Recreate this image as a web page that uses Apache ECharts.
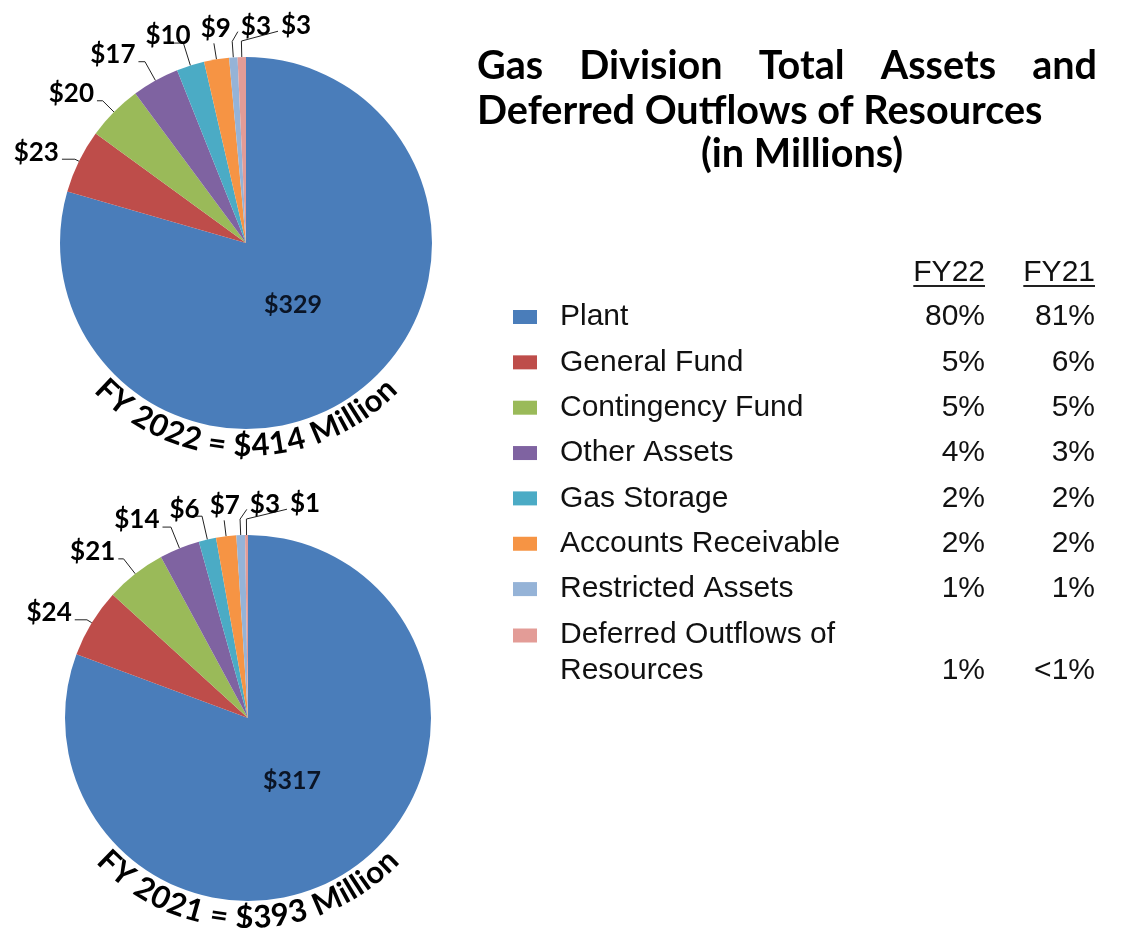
<!DOCTYPE html>
<html>
<head>
<meta charset="utf-8">
<title>Gas Division Total Assets and Deferred Outflows of Resources</title>
<script src="https://cdn.jsdelivr.net/npm/echarts@6/dist/echarts.min.js"></script>
<style>
  html, body { margin: 0; padding: 0; background: #fff; }
  #chart { width: 1128px; height: 928px; }
</style>
</head>
<body>
<div id="chart"></div>
<script>
const categories = [
  'Plant',
  'General Fund',
  'Contingency Fund',
  'Other Assets',
  'Gas Storage',
  'Accounts Receivable',
  'Restricted Assets',
  'Deferred Outflows of Resources'
];
const fy22Values = [329, 23, 20, 17, 10, 9, 3, 3];
const fy21Values = [317, 24, 21, 14, 6, 7, 3, 1];
const fy22Share = ['80%', '5%', '5%', '4%', '2%', '2%', '1%', '1%'];
const fy21Share = ['81%', '6%', '5%', '3%', '2%', '2%', '1%', '<1%'];
const columnHeads = ['FY22', 'FY21'];
const pieCaptions = ['FY 2022 = $414 Million', 'FY 2021 = $393 Million'];
const titleLines = ['Gas Division Total Assets and', 'Deferred Outflows of Resources', '(in Millions)'];

const colors = ['#4a7dba', '#be4d4a', '#9aba59', '#7f63a1', '#4babc5', '#f69444', '#95b3d7', '#e39c97'];

// geometry of the two pies (pixels)
const pies = [
  { values: fy22Values, center: [246, 243], radius: 186, caption: pieCaptions[0] },
  { values: fy21Values, center: [248, 718], radius: 183, caption: pieCaptions[1] }
];

const LABEL_SIZE = 26;
const LABEL_FONT = 'bold ' + LABEL_SIZE + 'px Lato';
const CAPTION_FONT = 'bold 31px Lato';
const TABLE_FONT = '30px "Liberation Sans"';

const measureCtx = document.createElement('canvas').getContext('2d');
function textWidth(str, font) {
  measureCtx.font = font;
  return measureCtx.measureText(str).width;
}

// place the outside labels roughly the way the spreadsheet did:
// text hung off the rim with a short leader, crowded top labels pushed right
function layoutLabels(pie) {
  const vals = pie.values;
  const total = vals.reduce((a, b) => a + b, 0);
  const cx = pie.center[0], cy = pie.center[1], r = pie.radius;
  let acc = 0;
  let prev = null;
  return vals.map(function (v, i) {
    const a0 = acc / total * Math.PI * 2;
    acc += v;
    const a1 = acc / total * Math.PI * 2;
    const mid = (a0 + a1) / 2;
    const sx = Math.sin(mid), sy = -Math.cos(mid);
    if (i === 0) {
      return { inner: [cx + sx * r * 0.42, cy + sy * r * 0.42] };
    }
    const w = textWidth('$' + v, LABEL_FONT);
    const h = LABEL_SIZE;
    const e = [cx + sx * r, cy + sy * r];
    let box, pts, tip;
    if (Math.abs(sx) < 0.2) {
      const bottom = e[1] - 18;
      tip = [e[0] + sx * (e[1] - bottom - 2) / -sy, bottom + 2];
      box = { x: e[0] - 11 - w / 2, y: bottom - h, w: w, h: h };
      pts = [e, tip, tip];
    } else {
      const bottom = e[1] + 4 - 45 * Math.max(0, Math.abs(sy) - 0.5);
      const right = e[0] - 20;
      box = { x: right - w, y: bottom - h, w: w, h: h };
      const end = [right + 3, bottom - 6];
      const t = (e[1] - end[1]) / Math.abs(sy);
      let knee = [e[0] + sx * t, end[1]];
      if (knee[0] < end[0]) knee = end;
      tip = end;
      pts = [e, knee, end];
    }
    if (prev && box.x < prev.x + prev.w + 10 && box.x + box.w > prev.x &&
        box.y < prev.y + prev.h && box.y + box.h > prev.y) {
      box.x = prev.x + prev.w + 10;
      if (box.x > tip[0] + 6) {
        pts = [e, tip, [box.x - 3, box.y + h * 0.7]];
      }
    }
    prev = box;
    return { box: box, pts: pts };
  });
}

// caption bent round the bottom of a pie, one glyph at a time
function arcText(str, cx, cy, radius, font) {
  const chars = str.split('');
  const widths = chars.map(function (ch) { return textWidth(ch, font); });
  const total = widths.reduce((a, b) => a + b, 0);
  let s = 0;
  return chars.map(function (ch, k) {
    const c = s + widths[k] / 2;
    s += widths[k];
    const phi = Math.PI / 2 + (total / 2 - c) / radius;
    return {
      type: 'text',
      silent: true,
      x: cx + radius * Math.cos(phi),
      y: cy + radius * Math.sin(phi),
      rotation: Math.PI / 2 - phi,
      style: { text: ch, font: font, fill: '#000', align: 'center', verticalAlign: 'middle' }
    };
  });
}

const chart = echarts.init(document.getElementById('chart'));

const series = pies.map(function (pie) {
  const layout = layoutLabels(pie);
  return {
    type: 'pie',
    center: pie.center,
    radius: pie.radius,
    startAngle: 90,
    clockwise: true,
    avoidLabelOverlap: false,
    silent: true,
    itemStyle: { borderWidth: 0 },
    label: {
      show: true,
      position: 'outside',
      formatter: function (p) { return '$' + p.value; },
      fontFamily: 'Lato',
      fontWeight: 'bold',
      fontSize: LABEL_SIZE,
      color: '#000'
    },
    labelLine: { show: true, length: 10, length2: 8, lineStyle: { color: '#222', width: 1 } },
    labelLayout: function (params) {
      const item = layout[params.dataIndex];
      if (!item) return {};
      if (item.inner) {
        return { x: item.inner[0], y: item.inner[1], align: 'center', verticalAlign: 'middle' };
      }
      return {
        x: item.box.x + item.box.w / 2,
        y: item.box.y + item.box.h,
        align: 'center',
        verticalAlign: 'bottom',
        labelLinePoints: item.pts
      };
    },
    data: categories.map(function (name, i) {
      const d = { name: name, value: pie.values[i] };
      if (i === 0) {
        d.label = { position: 'inside', color: '#0b1526', fontSize: 25 };
        d.labelLine = { show: false };
      }
      return d;
    })
  };
});

// title: first line justified, second left, third centred
const titleFont = (function () {
  const size = 36 * 566 / textWidth(titleLines[1], 'bold 36px Lato');
  return 'bold ' + size.toFixed(1) + 'px Lato';
})();
const titleLeft = 477, titleRight = 1097;
const graphics = [];
(function () {
  const words = titleLines[0].split(' ');
  const ws = words.map(function (w) { return textWidth(w, titleFont); });
  const gap = (titleRight - titleLeft - ws.reduce((a, b) => a + b, 0)) / (words.length - 1);
  let x = titleLeft;
  words.forEach(function (w, k) {
    graphics.push({ type: 'text', silent: true, x: x, y: 66,
      style: { text: w, font: titleFont, fill: '#000', align: 'left', verticalAlign: 'middle' } });
    x += ws[k] + gap;
  });
  graphics.push({ type: 'text', silent: true, x: titleLeft, y: 111,
    style: { text: titleLines[1], font: titleFont, fill: '#000', align: 'left', verticalAlign: 'middle' } });
  graphics.push({ type: 'text', silent: true, x: 802, y: 154,
    style: { text: titleLines[2], font: titleFont, fill: '#000', align: 'center', verticalAlign: 'middle' } });
})();

// column heads with underline
const colRight = [985, 1095];
columnHeads.forEach(function (head, k) {
  const w = textWidth(head, TABLE_FONT);
  graphics.push({ type: 'text', silent: true, x: colRight[k], y: 273,
    style: { text: head, font: TABLE_FONT, fill: '#111', align: 'right', verticalAlign: 'middle' } });
  graphics.push({ type: 'line', silent: true,
    shape: { x1: colRight[k] - w, y1: 286, x2: colRight[k], y2: 286 },
    style: { stroke: '#222', lineWidth: 2 } });
});

pies.forEach(function (pie) {
  arcText(pie.caption, pie.center[0], pie.center[1], pie.radius + 17, CAPTION_FONT)
    .forEach(function (g) { graphics.push(g); });
});

const lastName = categories[categories.length - 1];
const splitAt = lastName.lastIndexOf(' ');

const tableRich = {
  n: { fontSize: 30, fontFamily: 'Liberation Sans', color: '#111', width: 330, lineHeight: 35, padding: [0, 0, 0, 18] },
  p: { fontSize: 30, fontFamily: 'Liberation Sans', color: '#111', width: 95, align: 'right', lineHeight: 35 },
  q: { fontSize: 30, fontFamily: 'Liberation Sans', color: '#111', width: 110, align: 'right', lineHeight: 35 },
  d: { fontSize: 30, fontFamily: 'Liberation Sans', color: '#111', width: 330, lineHeight: 70, padding: [0, 0, 0, 18] },
  e: { fontSize: 30, fontFamily: 'Liberation Sans', color: '#111', width: 330, lineHeight: 1, padding: [0, 0, 0, 18] },
  pe: { fontSize: 30, fontFamily: 'Liberation Sans', color: '#111', width: 95, align: 'right', lineHeight: 1 },
  qe: { fontSize: 30, fontFamily: 'Liberation Sans', color: '#111', width: 110, align: 'right', lineHeight: 1 }
};

const option = {
  animation: false,
  backgroundColor: '#fff',
  color: colors,
  legend: [
    {
      data: categories.slice(0, categories.length - 1),
      orient: 'vertical',
      left: 513,
      top: 302,
      padding: 0,
      itemGap: 15.35,
      itemWidth: 24,
      itemHeight: 14,
      icon: 'rect',
      selectedMode: false,
      formatter: function (name) {
        const i = categories.indexOf(name);
        return '{n|' + name + '}{p|' + fy22Share[i] + '}{q|' + fy21Share[i] + '}';
      },
      textStyle: { fontSize: 30, fontFamily: 'Liberation Sans', color: '#111', rich: tableRich }
    },
    {
      data: [lastName],
      orient: 'vertical',
      left: 513,
      top: 620,
      padding: 0,
      itemWidth: 24,
      itemHeight: 14,
      icon: 'rect',
      selectedMode: false,
      formatter: function (name) {
        const i = categories.indexOf(name);
        return '{d|' + name.slice(0, splitAt) + '}\n{e|' + name.slice(splitAt + 1) + '}{pe|' +
          fy22Share[i] + '}{qe|' + fy21Share[i] + '}';
      },
      textStyle: { fontSize: 30, fontFamily: 'Liberation Sans', color: '#111', rich: tableRich }
    }
  ],
  graphic: graphics,
  series: series
};

chart.setOption(option);
</script>
</body>
</html>
